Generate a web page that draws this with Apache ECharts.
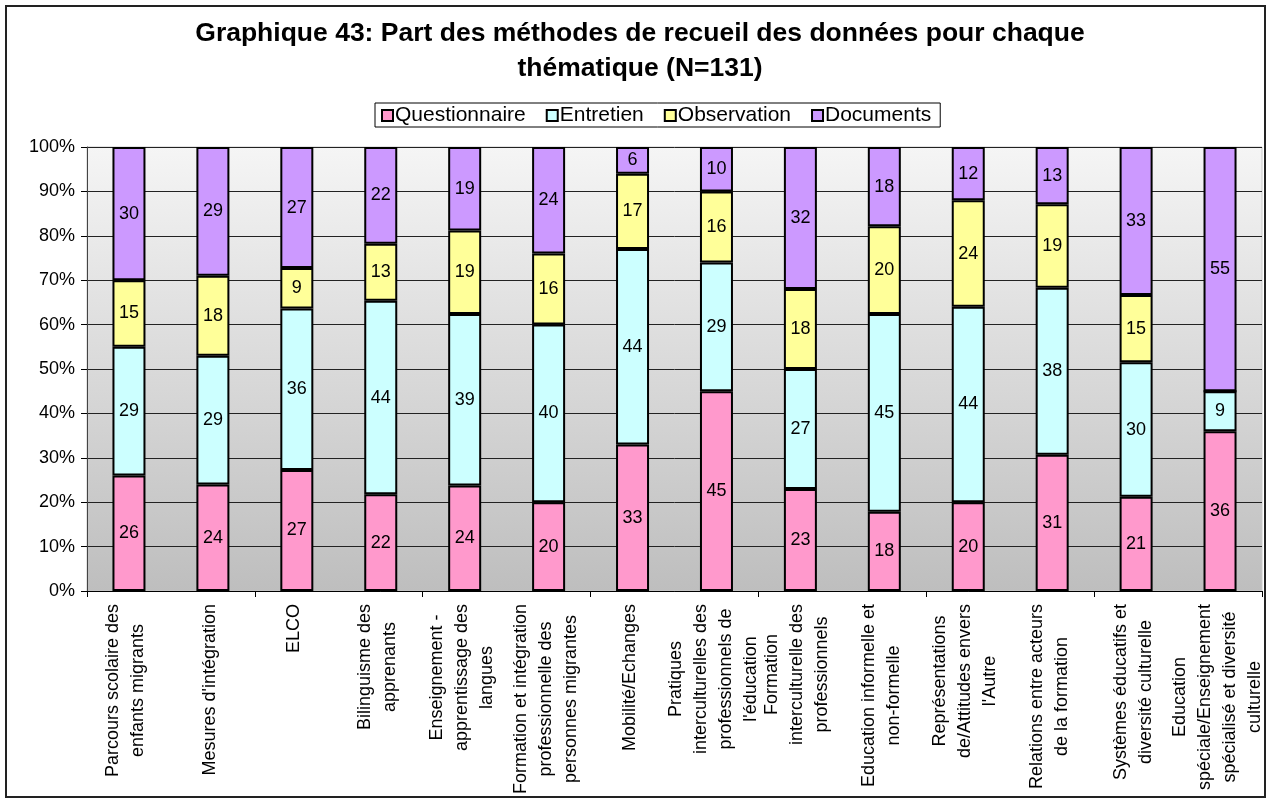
<!DOCTYPE html>
<html>
<head>
<meta charset="utf-8">
<script src="https://cdn.jsdelivr.net/npm/echarts@6/dist/echarts.min.js"></script>
<style>
  html, body { margin: 0; padding: 0; background: #fff; }
  #chart { width: 1269px; height: 801px; }
</style>
</head>
<body>
<div id="chart"></div>
<script>
// Thematic categories (line breaks as laid out under the axis)
const categories = [
  "Parcours scolaire des\nenfants migrants",
  "Mesures d'intégration",
  "ELCO",
  "Bilinguisme des\napprenants",
  "Enseignement -\napprentissage des\nlangues",
  "Formation et intégration\nprofessionnelle des\npersonnes migrantes",
  "Mobilité/Echanges",
  "Pratiques\ninterculturelles des\nprofessionnels de\nl'éducation",
  "Formation\ninterculturelle des\nprofessionnels",
  "Education informelle et\nnon-formelle",
  "Représentations\nde/Attitudes envers\nl'Autre",
  "Relations entre acteurs\nde la formation",
  "Systèmes éducatifs et\ndiversité culturelle",
  "Education\nspéciale/Enseignement\nspécialisé et diversité\nculturelle"
];

// Share (%) of each collection method per theme
const questionnaire = [26, 24, 27, 22, 24, 20, 33, 45, 23, 18, 20, 31, 21, 36];
const entretien     = [29, 29, 36, 44, 39, 40, 44, 29, 27, 45, 44, 38, 30, 9];
const observation   = [15, 18, 9, 13, 19, 16, 17, 16, 18, 20, 24, 19, 15, 0];
const documents     = [30, 29, 27, 22, 19, 24, 6, 10, 32, 18, 12, 13, 33, 55];

const seriesNames = ["Questionnaire", "Entretien", "Observation", "Documents"];
const seriesColors = ["#FF99CC", "#CCFFFF", "#FFFF99", "#CC99FF"];
const yTicks = [0, 10, 20, 30, 40, 50, 60, 70, 80, 90, 100];

const FONT = "Arial, 'Liberation Sans', sans-serif";
const CAT_FONT_SIZE = 18;
const CAT_LINE_HEIGHT = 25;
const CAT_MARGIN = 13;
const CAT_SHIFT_X = -3;
const raw = [questionnaire, entretien, observation, documents];

// 100% stacking: each column is scaled by its own total
const totals = categories.map((_, i) => raw.reduce((s, arr) => s + arr[i], 0));

const series = raw.map((arr, k) => ({
  name: seriesNames[k],
  type: 'bar',
  stack: 'total',
  barWidth: 33,
  itemStyle: { color: seriesColors[k], borderColor: '#000', borderWidth: 2 },
  label: {
    show: true,
    position: 'inside',
    color: '#000',
    fontFamily: FONT,
    fontSize: 18,
    formatter: p => (p.data.raw ? String(p.data.raw) : '')
  },
  data: arr.map((v, i) => ({ value: v / totals[i] * 100, raw: v }))
}));

const borderRect = {
  id: 'frame',
  type: 'rect',
  shape: { x: 6, y: 6, width: 1259, height: 791 },
  style: { fill: null, stroke: '#222', lineWidth: 2 },
  silent: true
};

const chart = echarts.init(document.getElementById('chart'), null, { renderer: 'canvas' });
chart.setOption({
  animation: false,
  backgroundColor: '#fff',
  title: {
    text: 'Graphique 43: Part des méthodes de recueil des données pour chaque\nthématique (N=131)',
    left: 635,
    textAlign: 'center',
    top: 11,
    textStyle: { fontFamily: FONT, fontWeight: 'bold', fontSize: 26.5, lineHeight: 35, color: '#000' }
  },
  legend: {
    data: seriesNames,
    left: 375,
    top: 103,
    itemWidth: 11,
    itemHeight: 11,
    itemGap: 20,
    padding: [2, 9, 1, 6],
    borderColor: '#000',
    borderWidth: 1,
    icon: 'rect',
    textStyle: { fontFamily: FONT, fontSize: 21, color: '#000', padding: [0, 0, 0, -3] }
  },
  graphic: [borderRect],
  grid: {
    left: 87, right: 7, top: 147, bottom: 210,
    show: true,
    borderColor: '#c8c8c8',
    borderWidth: 1,
    backgroundColor: {
      type: 'linear', x: 0, y: 0, x2: 0, y2: 1,
      colorStops: [{ offset: 0, color: '#f5f5f5' }, { offset: 1, color: '#bebebe' }]
    }
  },
  xAxis: {
    type: 'category',
    data: categories,
    axisLine: { lineStyle: { color: '#000', width: 1 } },
    axisTick: { show: true, length: 6, alignWithLabel: false, lineStyle: { color: '#000' } },
    axisLabel: { show: false }
  },
  yAxis: {
    type: 'value',
    min: yTicks[0],
    max: yTicks[yTicks.length - 1],
    interval: 10,
    axisLine: { show: true, lineStyle: { color: '#444', width: 1 } },
    axisTick: { show: true, length: 6, lineStyle: { color: '#000' } },
    axisLabel: { formatter: '{value}%', fontFamily: FONT, fontSize: 18, color: '#000', margin: 12 },
    splitLine: { show: true, lineStyle: { color: '#222', width: 1 } }
  },
  series: series
});

// Category labels: rotated text blocks whose lines are centred on each other,
// with the block's end placed just under the axis at each category position.
const measureCtx = document.createElement('canvas').getContext('2d');
measureCtx.font = CAT_FONT_SIZE + 'px ' + FONT;
const axisY = chart.convertToPixel({ yAxisIndex: 0 }, yTicks[0]);
const catLabels = categories.map((cat, i) => {
  const maxW = Math.max.apply(null, cat.split('\n').map(l => measureCtx.measureText(l).width));
  return {
    id: 'cat' + i,
    type: 'text',
    x: chart.convertToPixel({ xAxisIndex: 0 }, i) + CAT_SHIFT_X,
    y: axisY + CAT_MARGIN + maxW / 2,
    rotation: Math.PI / 2,
    silent: true,
    style: {
      text: cat,
      fontFamily: FONT,
      fontSize: CAT_FONT_SIZE,
      lineHeight: CAT_LINE_HEIGHT,
      fill: '#000',
      align: 'center',
      verticalAlign: 'middle'
    }
  };
});
chart.setOption({ graphic: [borderRect].concat(catLabels) });
</script>
</body>
</html>
